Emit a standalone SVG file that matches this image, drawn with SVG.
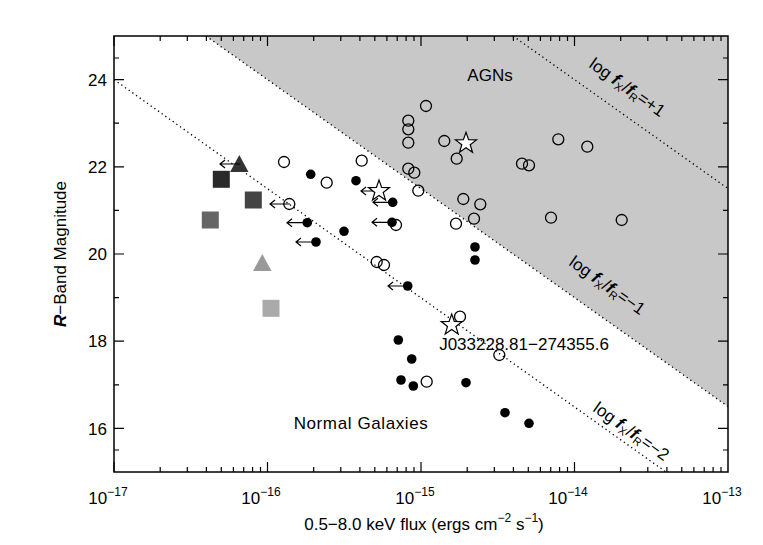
<svg xmlns="http://www.w3.org/2000/svg" width="763" height="545" viewBox="0 0 763 545">
<style>
text{font-family:"Liberation Sans",Arial,sans-serif;font-size:17px;fill:#000}
.o{fill:none;stroke:#000;stroke-width:1.3}
.f{fill:#000}
.ax{fill:none;stroke:#000;stroke-width:1.5}
.tk{stroke:#000;stroke-width:1.2}
.dl{stroke:#000;stroke-width:1.3;stroke-dasharray:1.3 3.2;fill:none}
.ar{stroke:#000;stroke-width:1.2;fill:none}
</style>
<defs>
<polygon id="star" points="0,-11 2.6,-3.6 10.5,-3.4 4.2,1.4 6.5,8.9 0,4.4 -6.5,8.9 -4.2,1.4 -10.5,-3.4 -2.6,-3.6" fill="#fff" stroke="#000" stroke-width="1.2"/>
<path id="arr" d="M0,0H-20M-15,-4L-20,0L-15,4" class="ar"/>
</defs>
<rect width="763" height="545" fill="#fff"/>
<g id="regions">
<polygon points="206,36 728,36 728,406.6" fill="#c8c8c8"/>
<line class="dl" x1="206" y1="36" x2="728" y2="406.6"/>
<line class="dl" x1="513" y1="36" x2="728" y2="188.6"/>
<line class="dl" x1="114" y1="79.6" x2="666" y2="472"/>
</g>
<g id="axes">
<rect class="ax" x="114" y="36" width="614" height="436"/>
<path class="tk" d="M114,472v-10M267.5,472v-10M421,472v-10M574.5,472v-10M114,36v10M267.5,36v10M421,36v10M574.5,36v10M114,79.6h10M114,166.8h10M114,254h10M114,341.2h10M114,428.4h10M728,79.6h-10M728,166.8h-10M728,254h-10M728,341.2h-10M728,428.4h-10"/>
<path class="tk" d="M160.2,472v-5M187.3,472v-5M206.4,472v-5M221.3,472v-5M233.4,472v-5M243.7,472v-5M252.6,472v-5M260.5,472v-5M313.7,472v-5M340.8,472v-5M359.9,472v-5M374.8,472v-5M386.9,472v-5M397.2,472v-5M406.1,472v-5M414,472v-5M467.2,472v-5M494.3,472v-5M513.4,472v-5M528.3,472v-5M540.4,472v-5M550.7,472v-5M559.6,472v-5M567.5,472v-5M620.7,472v-5M647.8,472v-5M666.9,472v-5M681.8,472v-5M693.9,472v-5M704.2,472v-5M713.1,472v-5M721,472v-5M160.2,36v5M187.3,36v5M206.4,36v5M221.3,36v5M233.4,36v5M243.7,36v5M252.6,36v5M260.5,36v5M313.7,36v5M340.8,36v5M359.9,36v5M374.8,36v5M386.9,36v5M397.2,36v5M406.1,36v5M414,36v5M467.2,36v5M494.3,36v5M513.4,36v5M528.3,36v5M540.4,36v5M550.7,36v5M559.6,36v5M567.5,36v5M620.7,36v5M647.8,36v5M666.9,36v5M681.8,36v5M693.9,36v5M704.2,36v5M713.1,36v5M721,36v5M114,58h5M114,123.2h5M114,210.4h5M114,297.6h5M114,384.8h5M114,450h5M728,58h-5M728,123.2h-5M728,210.4h-5M728,297.6h-5M728,384.8h-5M728,450h-5"/>
<g text-anchor="end">
<text x="107" y="86">24</text><text x="107" y="173">22</text><text x="107" y="260">20</text><text x="107" y="347">18</text><text x="107" y="435">16</text>
</g>
<g text-anchor="middle">
<text x="108" y="504" font-size="18">10<tspan font-size="12" dy="-8">−17</tspan></text>
<text x="261" y="504" font-size="18">10<tspan font-size="12" dy="-8">−16</tspan></text>
<text x="415" y="504" font-size="18">10<tspan font-size="12" dy="-8">−15</tspan></text>
<text x="568" y="504" font-size="18">10<tspan font-size="12" dy="-8">−14</tspan></text>
<text x="722" y="504" font-size="18">10<tspan font-size="12" dy="-8">−13</tspan></text>
<text x="424" y="530" font-size="18">0.5−8.0 keV flux (ergs cm<tspan font-size="12" dy="-8">−2</tspan><tspan dy="8"> s</tspan><tspan font-size="12" dy="-8">−1</tspan><tspan dy="8">)</tspan></text>
<text transform="translate(66,254) rotate(-90)" font-size="18"><tspan font-style="italic" font-weight="bold">R</tspan>−Band Magnitude</text>
</g>
</g>
<g id="labels" text-anchor="middle">
<text x="490" y="81">AGNs</text>
<text x="361" y="429" letter-spacing="0.6">Normal Galaxies</text>
<text x="524" y="350">J033228.81−274355.6</text>
<text transform="translate(624,92) rotate(35.4)">log <tspan font-style="italic" font-weight="bold">f</tspan><tspan font-size="11" dy="3">X</tspan><tspan dy="-3">/</tspan><tspan font-style="italic" font-weight="bold">f</tspan><tspan font-size="11" dy="3">R</tspan><tspan dy="-3">=+1</tspan></text>
<text transform="translate(604,290) rotate(35.4)">log <tspan font-style="italic" font-weight="bold">f</tspan><tspan font-size="11" dy="3">X</tspan><tspan dy="-3">/</tspan><tspan font-style="italic" font-weight="bold">f</tspan><tspan font-size="11" dy="3">R</tspan><tspan dy="-3">=−1</tspan></text>
<text transform="translate(628,436) rotate(35.4)">log <tspan font-style="italic" font-weight="bold">f</tspan><tspan font-size="11" dy="3">X</tspan><tspan dy="-3">/</tspan><tspan font-style="italic" font-weight="bold">f</tspan><tspan font-size="11" dy="3">R</tspan><tspan dy="-3">=−2</tspan></text>
</g>
<g id="special">
<rect x="212.8" y="170.8" width="17" height="17" fill="#2a2a2a"/>
<rect x="244.8" y="191.5" width="17" height="17" fill="#444"/>
<rect x="201.8" y="211.5" width="17" height="17" fill="#666"/>
<rect x="262.5" y="299.8" width="17" height="17" fill="#aaa"/>
<polygon points="239.3,155 248.5,172 230.1,172" fill="#333"/>
<polygon points="262.3,254 271.5,271 253.1,271" fill="#999"/>
<use href="#arr" x="240" y="164"/>
</g>
<g id="open">
<circle class="o" cx="284" cy="162" r="5.5"/><circle class="o" cx="326.7" cy="182.7" r="5.5"/><circle class="o" cx="361.7" cy="160.7" r="5.5"/>
<circle class="o" cx="289.3" cy="204" r="5.5"/><circle class="o" cx="396" cy="225" r="5.5"/>
<circle class="o" cx="376.7" cy="262" r="5.5"/><circle class="o" cx="384" cy="265" r="5.5"/>
<circle class="o" cx="408.3" cy="120.7" r="5.5"/><circle class="o" cx="408.3" cy="129.3" r="5.5"/><circle class="o" cx="408.3" cy="142.7" r="5.5"/>
<circle class="o" cx="408.3" cy="168.7" r="5.5"/><circle class="o" cx="414.3" cy="172.7" r="5.5"/><circle class="o" cx="418.3" cy="190.7" r="5.5"/>
<circle class="o" cx="426" cy="106" r="5.5"/><circle class="o" cx="444.3" cy="141" r="5.5"/><circle class="o" cx="456.7" cy="158.7" r="5.5"/>
<circle class="o" cx="558.3" cy="139.3" r="5.5"/><circle class="o" cx="587.3" cy="146.7" r="5.5"/>
<circle class="o" cx="522" cy="163.7" r="5.5"/><circle class="o" cx="529" cy="165.3" r="5.5"/>
<circle class="o" cx="463.3" cy="199" r="5.5"/><circle class="o" cx="480.3" cy="204.3" r="5.5"/>
<circle class="o" cx="456" cy="223.7" r="5.5"/><circle class="o" cx="474" cy="218.7" r="5.5"/>
<circle class="o" cx="551" cy="217.7" r="5.5"/><circle class="o" cx="621.7" cy="220" r="5.5"/>
<circle class="o" cx="460" cy="316.7" r="5.5"/><circle class="o" cx="499.3" cy="355" r="5.5"/><circle class="o" cx="426.7" cy="381.7" r="5.5"/>
</g>
<g id="filled">
<circle class="f" cx="310.7" cy="174.3" r="4.8"/><circle class="f" cx="356" cy="180.7" r="4.8"/>
<circle class="f" cx="392.7" cy="202.3" r="4.8"/><circle class="f" cx="307.3" cy="222.7" r="4.8"/>
<circle class="f" cx="392" cy="222.3" r="4.8"/><circle class="f" cx="344" cy="231.3" r="4.8"/>
<circle class="f" cx="316" cy="242" r="4.8"/><circle class="f" cx="475" cy="247" r="4.8"/>
<circle class="f" cx="475" cy="260" r="4.8"/><circle class="f" cx="407.7" cy="286" r="4.8"/>
<circle class="f" cx="398.3" cy="340" r="4.8"/><circle class="f" cx="411.7" cy="359" r="4.8"/>
<circle class="f" cx="401" cy="380" r="4.8"/><circle class="f" cx="413.3" cy="386" r="4.8"/>
<circle class="f" cx="466" cy="382.7" r="4.8"/><circle class="f" cx="505" cy="412.7" r="4.8"/>
<circle class="f" cx="529" cy="423.3" r="4.8"/>
</g>
<g id="limits">
<use href="#arr" x="290" y="204"/><use href="#arr" x="307" y="222.7"/><use href="#arr" x="316" y="242"/>
<use href="#arr" x="381" y="191"/><use href="#arr" x="393" y="202.3"/><use href="#arr" x="392" y="222.3"/>
<use href="#arr" x="408" y="286"/>
</g>
<g id="stars">
<use href="#star" x="379" y="191"/><use href="#star" x="466" y="143.3"/><use href="#star" x="451.7" y="325"/>
</g>
</svg>
